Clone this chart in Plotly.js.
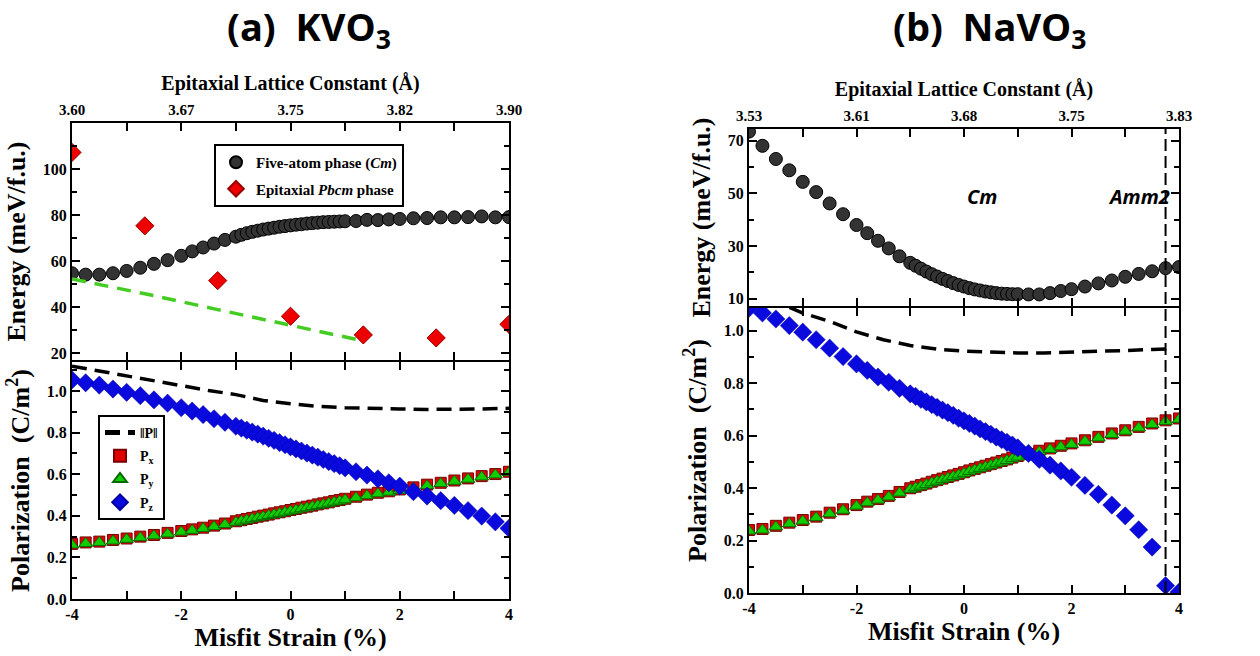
<!DOCTYPE html>
<html>
<head>
<meta charset="utf-8">
<script src="https://cdn.plot.ly/plotly-3.0.1.min.js"></script>
<style>html,body{margin:0;padding:0;background:#fff;}#chart{width:1260px;height:656px;}</style>
</head>
<body>
<div id="chart"></div>
<script>
// ---------- data ----------
const strain = [-4,-3.75,-3.5,-3.25,-3,-2.75,-2.5,-2.25,-2,-1.8,-1.6,-1.4,-1.2,-1,-0.9,-0.8,-0.7,-0.6,-0.5,-0.4,-0.3,-0.2,-0.1,0,0.1,0.2,0.3,0.4,0.5,0.6,0.7,0.8,0.9,1,1.2,1.4,1.6,1.8,2,2.25,2.5,2.75,3,3.25,3.5,3.75,4];

// (a) KVO3
const kvoEnergyCm = [54.7,54.1,54.1,54.7,55.7,57.1,58.8,60.4,62.3,64.2,65.9,67.6,69.2,70.6,71.4,72.1,72.7,73.2,73.7,74.1,74.5,74.9,75.2,75.5,75.8,76.0,76.3,76.5,76.7,76.9,77.0,77.1,77.2,77.3,77.4,77.9,77.8,78.1,78.3,78.6,78.7,79.0,79.0,79.1,79.4,79.0,79.1];
const kvoPbcmStrain = [-4,-2.667,-1.333,0,1.333,2.667,4];
const kvoPbcmEnergy = [107.2,75.3,51.5,36.0,27.9,26.6,32.5];
const kvoFitStrain = [-4,-2.667,-1.333,0,1.333];
const kvoFitEnergy = [52.2,45.8,38.9,32.1,25.3];
const kvoPx = [0.265,0.272,0.276,0.284,0.291,0.300,0.308,0.318,0.327,0.335,0.343,0.353,0.363,0.374,0.379,0.385,0.390,0.396,0.401,0.406,0.412,0.417,0.422,0.428,0.433,0.439,0.444,0.449,0.455,0.460,0.465,0.471,0.476,0.482,0.492,0.502,0.511,0.518,0.527,0.537,0.550,0.559,0.570,0.580,0.591,0.601,0.612];
const kvoPy = [0.260,0.267,0.272,0.279,0.287,0.295,0.304,0.313,0.322,0.330,0.339,0.348,0.358,0.369,0.375,0.380,0.386,0.391,0.396,0.402,0.407,0.412,0.418,0.423,0.428,0.434,0.439,0.445,0.450,0.455,0.461,0.466,0.471,0.477,0.487,0.497,0.506,0.514,0.522,0.533,0.545,0.555,0.566,0.576,0.587,0.597,0.608];
const kvoPz = [1.054,1.040,1.029,1.010,0.994,0.978,0.958,0.942,0.920,0.904,0.887,0.867,0.850,0.831,0.822,0.812,0.803,0.793,0.783,0.773,0.763,0.752,0.742,0.732,0.722,0.712,0.702,0.692,0.682,0.671,0.661,0.651,0.641,0.631,0.612,0.596,0.578,0.559,0.543,0.516,0.495,0.473,0.450,0.425,0.399,0.371,0.340];
const kvoPnormStrain = [-4,-3.5,-3,-2.5,-2,-1.5,-1,-0.5,0,0.5,1,1.5,2,2.5,3,3.5,4];
const kvoPnorm = [1.120,1.096,1.075,1.051,1.027,1.003,0.983,0.955,0.939,0.927,0.920,0.915,0.914,0.912,0.912,0.914,0.917];

// (b) NaVO3
const nvoEnergyCm = [73.5,68.1,63.1,58.8,54.4,50.5,46.2,42.1,38.0,34.9,32.0,29.1,26.1,23.6,22.5,21.4,20.3,19.3,18.4,17.5,16.7,15.9,15.2,14.6,14.0,13.5,13.1,12.7,12.4,12.1,11.9,11.8,11.7,11.7,11.6,11.6,12.1,12.9,13.6,14.6,15.8,16.9,18.3,19.4,20.4,21.6,22.0];
const nvoPx = [0.240,0.244,0.256,0.268,0.278,0.291,0.306,0.319,0.335,0.348,0.358,0.370,0.385,0.399,0.405,0.411,0.417,0.424,0.430,0.436,0.442,0.448,0.454,0.460,0.467,0.473,0.479,0.485,0.491,0.497,0.503,0.509,0.516,0.522,0.529,0.542,0.551,0.561,0.570,0.582,0.595,0.608,0.620,0.633,0.646,0.658,0.665];
const nvoPy = [0.236,0.240,0.252,0.264,0.274,0.287,0.302,0.315,0.331,0.344,0.354,0.366,0.381,0.395,0.401,0.407,0.413,0.420,0.426,0.432,0.438,0.444,0.450,0.456,0.463,0.469,0.475,0.481,0.487,0.493,0.499,0.505,0.512,0.518,0.525,0.538,0.547,0.557,0.566,0.578,0.591,0.604,0.616,0.629,0.642,0.654,0.661];
const nvoPz = [1.085,1.067,1.044,1.019,0.994,0.965,0.933,0.901,0.873,0.848,0.823,0.803,0.780,0.759,0.749,0.738,0.728,0.718,0.707,0.697,0.687,0.677,0.666,0.656,0.646,0.636,0.625,0.615,0.605,0.594,0.584,0.574,0.564,0.553,0.532,0.509,0.487,0.465,0.441,0.410,0.376,0.335,0.294,0.241,0.175,0.028,0.003];
const nvoPnormStrain = [-4,-3.5,-3,-2.5,-2,-1.5,-1,-0.5,0,0.5,1,1.5,2,2.5,3,3.5,3.75,3.85];
const nvoPnorm = [1.17,1.11,1.067,1.035,0.995,0.965,0.943,0.929,0.922,0.918,0.915,0.915,0.917,0.920,0.924,0.928,0.930,0.940];
const nvoPhaseBoundary = 3.75;

// tick labels
const strainTicks = [-4,-2,0,2,4];
const strainTickText = ['-4','-2','0','2','4'];
const strainMinor = [-3,-1,1,3];
const kvoLattice = ['3.60','3.67','3.75','3.82','3.90'];
const nvoLattice = ['3.53','3.61','3.68','3.75','3.83'];
const polTicks = [0,0.2,0.4,0.6,0.8,1.0];
const polTickText = ['0.0','0.2','0.4','0.6','0.8','1.0'];
const polMinor = [0.1,0.3,0.5,0.7,0.9,1.1];
const kvoETicks = [20,40,60,80,100];
const kvoEMinor = [30,50,70,90,110];
const nvoETicks = [10,30,50,70];
const nvoEMinor = [20,40,60];

// ---------- styles ----------
const SERIF = '"Liberation Serif", "Times New Roman", serif';
const SANS = '"Open Sans", sans-serif';
const tickFont = {family: SERIF, size: 16, color: '#000', weight: 700};
const circ = {symbol:'circle', size:13, color:'#333333', line:{color:'#000', width:1}};
const redDia = {symbol:'diamond', size:14, color:'#ee0000', line:{color:'#990000', width:1}};
const sq = {symbol:'square', size:11, color:'#e00000', line:{color:'#7a0000', width:1}};
const tri = {symbol:'triangle-up', size:12, color:'#11cc00', line:{color:'#0a6a00', width:1}};
const dia = {symbol:'diamond', size:14, color:'#0a0adf', line:{color:'#0000a0', width:0.5}};

function xAx(domain, anchor, opts) {
  return Object.assign({
    domain: domain, anchor: anchor, range: [-4,4], tickmode:'array',
    tickvals: strainTicks, ticktext: strainTickText,
    ticks:'inside', ticklen:8, tickwidth:2, tickcolor:'#000',
    minor:{tickmode:'array', tickvals: strainMinor, ticks:'inside', ticklen:8, tickwidth:2, tickcolor:'#000'},
    showline:true, linewidth:2, linecolor:'#000', mirror:'ticks',
    showgrid:false, zeroline:false, tickfont: Object.assign({}, tickFont), fixedrange:true
  }, opts);
}
function yAx(domain, anchor, range, tv, tt, mv, title) {
  return {
    domain: domain, anchor: anchor, range: range, tickmode:'array',
    tickvals: tv, ticktext: tt,
    ticks:'inside', ticklen:8, tickwidth:2, tickcolor:'#000',
    minor:{tickmode:'array', tickvals: mv, ticks:'inside', ticklen:5, tickwidth:2, tickcolor:'#000'},
    showline:true, linewidth:2, linecolor:'#000', mirror:'ticks',
    showgrid:false, zeroline:false, tickfont: Object.assign({}, tickFont), fixedrange:true,
    title:{text:title, font:{family:SERIF, size:26, color:'#000', weight:700}, standoff:10}
  };
}

const traces = [
  // (a) energy
  {x: strain, y: kvoEnergyCm, xaxis:'x2', yaxis:'y2', mode:'markers', marker:circ,
   name:'Five-atom phase (<i>Cm</i>)', legend:'legend', legendgroup:'a1'},
  {x: kvoPbcmStrain, y: kvoPbcmEnergy, xaxis:'x2', yaxis:'y2', mode:'markers', marker:redDia,
   name:'Epitaxial <i>Pbcm</i> phase', legend:'legend', legendgroup:'a2'},
  {x: kvoFitStrain, y: kvoFitEnergy, xaxis:'x2', yaxis:'y2', mode:'lines',
   line:{color:'#44cc22', width:3.5, dash:'14px,9px'}, showlegend:false},
  // (a) polarization
  {x: kvoPnormStrain, y: kvoPnorm, xaxis:'x', yaxis:'y', mode:'lines',
   line:{color:'#000', width:3.5, dash:'15px,8px'}, name:'\u2016P\u2016', legend:'legend2', legendgroup:'b1'},
  {x: strain, y: kvoPx, xaxis:'x', yaxis:'y', mode:'markers', marker:sq, name:'P<sub>x</sub>', legend:'legend2', legendgroup:'b2'},
  {x: strain, y: kvoPy, xaxis:'x', yaxis:'y', mode:'markers', marker:tri, name:'P<sub>y</sub>', legend:'legend2', legendgroup:'b3'},
  {x: strain, y: kvoPz, xaxis:'x', yaxis:'y', mode:'markers', marker:dia, name:'P<sub>z</sub>', legend:'legend2', legendgroup:'b4'},
  // (b) energy
  {x: strain, y: nvoEnergyCm, xaxis:'x4', yaxis:'y4', mode:'markers', marker:circ, showlegend:false},
  // (b) polarization
  {x: nvoPnormStrain, y: nvoPnorm, xaxis:'x3', yaxis:'y3', mode:'lines',
   line:{color:'#000', width:3.5, dash:'15px,8px'}, showlegend:false},
  {x: strain, y: nvoPx, xaxis:'x3', yaxis:'y3', mode:'markers', marker:sq, showlegend:false},
  {x: strain, y: nvoPy, xaxis:'x3', yaxis:'y3', mode:'markers', marker:tri, showlegend:false},
  {x: strain, y: nvoPz, xaxis:'x3', yaxis:'y3', mode:'markers', marker:dia, showlegend:false}
];

const xTitleFont = {family:SERIF, size:26, color:'#000', weight:700};
const topTitleFont = {family:SERIF, size:20, color:'#000', weight:700};

const H = 656;
const L = [72/1260, 509/1260], R = [749/1260, 1179/1260];
const layout = {
  width:1260, height:656, margin:{l:0,r:0,t:0,b:0},
  paper_bgcolor:'#fff', plot_bgcolor:'rgba(0,0,0,0)', showlegend:true,
  xaxis: xAx(L, 'y', {title:{text:'Misfit Strain (%)', font:xTitleFont, standoff:2}}),
  xaxis2: xAx(L, 'y2', {side:'top', ticktext:kvoLattice, tickfont:Object.assign({}, tickFont, {size:15}),
           title:{text:'Epitaxial Lattice Constant (\u00C5)', font:topTitleFont, standoff:6}}),
  xaxis3: xAx(R, 'y3', {title:{text:'Misfit Strain (%)', font:xTitleFont, standoff:2}}),
  xaxis4: xAx(R, 'y4', {side:'top', ticktext:nvoLattice, tickfont:Object.assign({}, tickFont, {size:15}),
           title:{text:'Epitaxial Lattice Constant (\u00C5)', font:topTitleFont, standoff:6}}),
  yaxis: yAx([1-599/H, 1-362/H], 'x', [0,1.14], polTicks, polTickText, polMinor, 'Polarization&nbsp;&nbsp;(C/m<sup>2</sup>)'),
  yaxis2: yAx([1-360/H, 1-123/H], 'x2', [17,120], kvoETicks, kvoETicks.map(String), kvoEMinor, 'Energy (meV/f.u.)'),
  yaxis3: yAx([1-593/H, 1-308/H], 'x3', [0,1.086], polTicks, polTickText, polMinor, 'Polarization&nbsp;&nbsp;(C/m<sup>2</sup>)'),
  yaxis4: yAx([1-306/H, 1-129/H], 'x4', [7.2,74.5], nvoETicks, nvoETicks.map(String), nvoEMinor, 'Energy (meV/f.u.)'),
  legend: {x:214/1260, y:1-144/H, xanchor:'left', yanchor:'top', bgcolor:'#fff',
           bordercolor:'#000', borderwidth:2, font:{family:SERIF, size:15, color:'#000', weight:700},
           tracegroupgap:4, itemwidth:30, itemsizing:'constant'},
  legend2: {x:98/1260, y:1-415/H, xanchor:'left', yanchor:'top', bgcolor:'#fff',
           bordercolor:'#000', borderwidth:2, font:{family:SERIF, size:14, color:'#000', weight:700},
           tracegroupgap:2, itemwidth:30, itemsizing:'constant'},
  shapes: [
    {type:'line', xref:'x3', yref:'paper', x0:nvoPhaseBoundary, x1:nvoPhaseBoundary,
     y0:1-593/H, y1:1-129/H, line:{color:'#000', width:2, dash:'12px,5px'}}
  ],
  annotations: [
    {text:'(a)&nbsp;&nbsp;KVO<sub>3</sub>', xref:'paper', yref:'paper', x:309/1260, y:1-28/H,
     showarrow:false, xanchor:'center', yanchor:'middle', font:{family:SANS, size:38, color:'#000', weight:700}},
    {text:'(b)&nbsp;&nbsp;NaVO<sub>3</sub>', xref:'paper', yref:'paper', x:990/1260, y:1-28/H,
     showarrow:false, xanchor:'center', yanchor:'middle', font:{family:SANS, size:38, color:'#000', weight:700}},
    {text:'<i>Cm</i>', xref:'x4', yref:'y4', x:0.33, y:49, showarrow:false,
     font:{family:SANS, size:20, color:'#000', weight:700}},
    {text:'<i>Amm2</i>', xref:'x4', yref:'y4', x:3.26, y:49, showarrow:false,
     font:{family:SANS, size:20, color:'#000', weight:700}}
  ]
};

Plotly.newPlot('chart', traces, layout, {staticPlot:true, displayModeBar:false});
</script>
</body>
</html>
